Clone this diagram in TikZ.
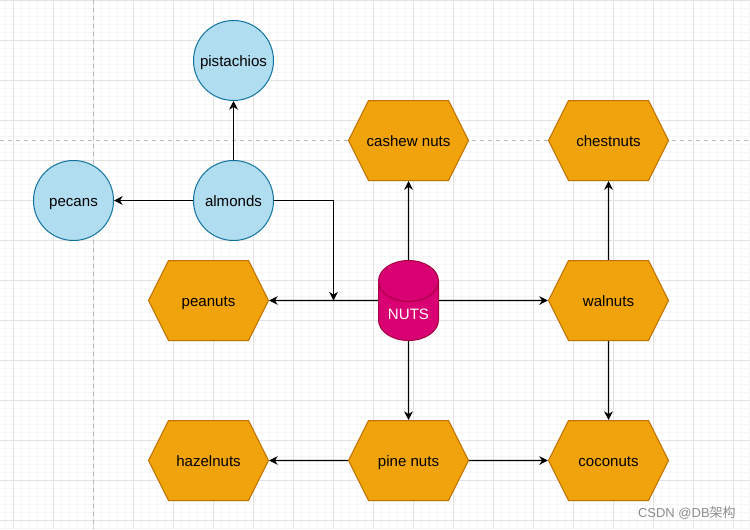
\documentclass[tikz,border=0pt]{standalone}
\usepackage{fontspec}
\setmainfont{Liberation Sans}
\newfontfamily\cjkfont{Noto Sans CJK SC}
\usetikzlibrary{shapes.geometric,shapes.symbols,arrows.meta}

\definecolor{hexfill}{RGB}{240,163,10}
\definecolor{hexline}{RGB}{189,112,0}
\definecolor{nutfill}{RGB}{177,221,240}
\definecolor{nutline}{RGB}{16,115,158}
\definecolor{dbfill}{RGB}{216,0,115}
\definecolor{dbline}{RGB}{165,0,64}

\tikzset{
  nutfont/.style={font=\fontsize{11.3}{13}\selectfont,text height=9pt,text depth=0pt},
  nutcircle/.style={circle,draw=nutline,fill=nutfill,line width=0.75pt,minimum size=60pt,inner sep=0pt,nutfont},
  nuthex/.style={signal,signal to=east and west,signal pointer angle=126.87,draw=hexline,fill=hexfill,line width=0.75pt,minimum width=90pt,minimum height=60pt,inner ysep=0pt,inner xsep=-10pt,nutfont},
  nutdb/.style={cylinder,shape border rotate=90,aspect=1,anchor=shape center,draw=dbline,cylinder uses custom fill,cylinder body fill=dbfill,cylinder end fill=dbfill,line width=0.75pt,minimum width=45pt,minimum height=60pt,inner sep=0pt,text=white,nutfont,text height=13pt},
  link/.style={line width=0.8pt,-{Stealth[length=6.5pt,width=6.5pt]}},
}

\begin{document}
\begin{tikzpicture}[x=0.75pt,y=0.75pt,yscale=-1,xscale=1]
\useasboundingbox (0,0) rectangle (750,529);

%Grid: minor, major, dashed page break
\foreach \i in {0,...,93} \draw [color=black!3.5,line width=0.75pt] (5.3+8*\i,0) -- (5.3+8*\i,529);
\foreach \i in {0,...,66} \draw [color=black!3.5,line width=0.75pt] (0,0.5+8*\i) -- (750,0.5+8*\i);
\foreach \i in {0,...,18} \draw [color=black!11,line width=0.75pt] (13.3+40*\i,0) -- (13.3+40*\i,529);
\foreach \i in {0,...,13} \draw [color=black!11,line width=0.75pt] (0,0.5+40*\i) -- (750,0.5+40*\i);
\draw [color=black!27,line width=0.75pt,dashed] (93.3,0) -- (93.3,529);
\draw [color=black!27,line width=0.75pt,dashed] (0,140.3) -- (750,140.3);

%Circles
\node [nutcircle] (pistachios) at (233.5,60.5) {pistachios};
\node [nutcircle] (almonds) at (233.5,200.5) {almonds};
\node [nutcircle] (pecans) at (73.5,200.5) {pecans};

%Hexagons
\node [nuthex] (cashew) at (408.5,140.5) {cashew nuts};
\node [nuthex] (chestnuts) at (608.5,140.5) {chestnuts};
\node [nuthex] (peanuts) at (208.5,300.5) {peanuts};
\node [nuthex] (walnuts) at (608.5,300.5) {walnuts};
\node [nuthex] (hazelnuts) at (208.5,460.5) {hazelnuts};
\node [nuthex] (pinenuts) at (408.5,460.5) {pine nuts};
\node [nuthex] (coconuts) at (608.5,460.5) {coconuts};

%Cylinder
\node [nutdb] (nuts) at (408.5,300.5) {NUTS};

%Straight Lines
\coordinate (almondsend) at (333.5,300.5);
\draw [link] (almonds) -- (pistachios);
\draw [link] (almonds) -- (pecans);
\draw [link] (almonds.east) -| (almondsend);
\draw [link] (nuts.shape center -| nuts.west) -- (peanuts);
\draw [link] (nuts.shape center -| nuts.east) -- (walnuts);
\draw [link] (nuts.north) -- (cashew);
\draw [link] (nuts.south) -- (pinenuts);
\draw [link] (walnuts) -- (chestnuts);
\draw [link] (walnuts) -- (coconuts);
\draw [link] (pinenuts) -- (hazelnuts);
\draw [link] (pinenuts) -- (coconuts);

% Text Node
\node [color=black!45,anchor=east,inner sep=0pt,font=\fontsize{9.75}{12}\selectfont] (mark) at (736,513) {CSDN @DB{\cjkfont 架构}};

\end{tikzpicture}
\end{document}
